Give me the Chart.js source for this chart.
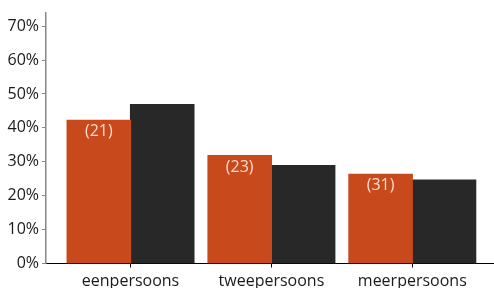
<!DOCTYPE html>
<html>
<head>
<meta charset="utf-8">
<script src="https://cdn.jsdelivr.net/npm/chart.js@4"></script>
<style>
  html, body { margin: 0; padding: 0; background: #fff; overflow: hidden; }
  #wrap { position: absolute; left: 0; top: 0; width: 494px; height: 300px; }
</style>
</head>
<body>
<div id="wrap"><canvas id="chart" width="494" height="300"></canvas></div>
<script>
const categories = ['eenpersoons', 'tweepersoons', 'meerpersoons'];
const seriesA = [42.2, 31.8, 26.3];
const seriesB = [46.9, 28.9, 24.6];
const countLabels = ['(21)', '(23)', '(31)'];
const yTicks = [0, 10, 20, 30, 40, 50, 60, 70];

const FONT = '"Open Sans", "Noto Sans", sans-serif';

const countLabelPlugin = {
    id: 'countLabels',
    afterDatasetsDraw(chart) {
        const ctx = chart.ctx;
        const meta = chart.getDatasetMeta(0);
        ctx.save();
        ctx.font = '16px ' + FONT;
        ctx.fillStyle = 'rgba(255,232,220,0.92)';
        ctx.textAlign = 'center';
        ctx.textBaseline = 'middle';
        meta.data.forEach((bar, i) => {
            ctx.fillText(countLabels[i], bar.x, bar.y + 11.5);
        });
        ctx.restore();
    }
};

const toPoints = (arr) => arr.map((v, i) => ({x: i, y: v}));

const config = {
    type: 'bar',
    data: {
        datasets: [
            {data: toPoints(seriesA), backgroundColor: '#c8491c', categoryPercentage: 0.9, barPercentage: 1.0, inflateAmount: 0.6},
            {data: toPoints(seriesB), backgroundColor: '#282828', categoryPercentage: 0.9, barPercentage: 1.0, inflateAmount: 0.6}
        ]
    },
    options: {
        responsive: false,
        animation: false,
        layout: {padding: {left: 0, right: 0, top: 9, bottom: 0}},
        plugins: {legend: {display: false}, tooltip: {enabled: false}},
        scales: {
            x: {
                type: 'linear',
                offset: false,
                min: -0.6,
                max: 2.58,
                afterBuildTicks: (scale) => { scale.ticks = categories.map((c, i) => ({value: i})); },
                afterFit: (scale) => { scale.height = 36.5; },
                ticks: {
                    callback: (v) => categories[v] || '',
                    color: '#1a1a1a',
                    font: {family: FONT, size: 16},
                    padding: 4,
                    maxRotation: 0,
                    autoSkip: false
                },
                grid: {drawOnChartArea: false, drawTicks: true, tickLength: 4, color: '#000', offset: false},
                border: {color: '#000', width: 1}
            },
            y: {
                min: 0,
                max: 74,
                afterBuildTicks: (scale) => { scale.ticks = yTicks.map(v => ({value: v})); },
                afterFit: (scale) => { scale.width = 46; },
                ticks: {
                    callback: (v) => v + '%',
                    color: '#1a1a1a',
                    font: {family: FONT, size: 16},
                    padding: 3
                },
                grid: {drawOnChartArea: false, drawTicks: true, tickLength: 4, color: '#888'},
                border: {color: '#888', width: 1.5}
            }
        }
    },
    plugins: [countLabelPlugin]
};

new Chart(document.getElementById('chart'), config);
</script>
</body>
</html>
